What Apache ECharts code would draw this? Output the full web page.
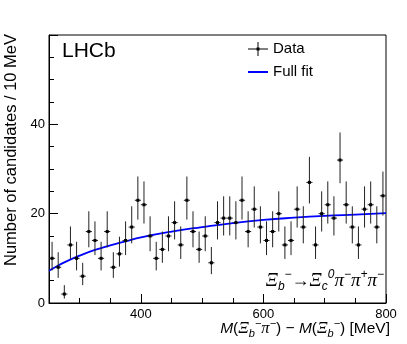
<!DOCTYPE html>
<html lang="en">
	<head>
		<meta charset="UTF-8">
		<title>Xi_b mass difference</title>
		<script src="https://cdn.jsdelivr.net/npm/echarts@6/dist/echarts.min.js" type="text/javascript" charset="utf-8"></script>
		<style>
			html, body { margin: 0; padding: 0; background: #fff; }
			#main { width: 407px; height: 344px; }
		</style>
	</head>
	<body>
		<div id="main"></div>
		<script>
			// bin centres (10 MeV bins) and counts
			var binCentres = [255, 265, 275, 285, 295, 305, 315, 325, 335, 345,
				355, 365, 375, 385, 395, 405, 415, 425, 435, 445,
				455, 465, 475, 485, 495, 505, 515, 525, 535, 545,
				555, 565, 575, 585, 595, 605, 615, 625, 635, 645,
				655, 665, 675, 685, 695, 705, 715, 725, 735, 745,
				755, 765, 775, 785, 795];
			var counts = [10, 8, 2, 13, 10, 6, 16, 14, 10, 16,
				8, 11, 14, 17, 23, 22, 15, 10, 12, 15,
				18, 13, 23, 16, 12, 15, 9, 18, 19, 19,
				18, 23, 16, 21, 17, 14, 16, 20, 13, 14,
				21, 17, 27, 13, 20, 22, 19, 32, 22, 17,
				13, 21, 22, 17, 24];
			// full fit curve
			var fitX = [250, 260, 275, 300, 325, 350, 375, 400, 450, 500, 550, 600, 650, 700, 750, 800];
			var fitY = [7.2, 8.0, 9.1, 10.6, 11.9, 12.9, 13.8, 14.7, 16.0, 17.0, 17.9, 18.6, 19.1, 19.5, 19.8, 20.1];
			var yTicks = [0, 20, 40];

			var BIN = 10;
			var data = binCentres.map(function (x, i) {
				var n = counts[i];
				var s = Math.sqrt(n + 0.25);
				return [x, n, s - 0.5, s + 0.5];//x, y, err low, err high
			});
			var fit = fitX.map(function (x, i) { return [x, fitY[i]]; });

			function renderPoint(params, api) {
				var x = api.value(0), y = api.value(1);
				var c = api.coord([x, y]);
				var l = api.coord([x - BIN / 2, y]);
				var r = api.coord([x + BIN / 2, y]);
				var lo = api.coord([x, Math.max(0, y - api.value(2))]);
				var hi = api.coord([x, y + api.value(3)]);
				var st = { stroke: '#222', lineWidth: 1 };
				return {
					type: 'group',
					children: [
						{ type: 'line', shape: { x1: c[0], y1: lo[1], x2: c[0], y2: hi[1] }, style: st },
						{ type: 'line', shape: { x1: l[0], y1: c[1], x2: r[0], y2: c[1] }, style: st },
						{ type: 'rect', shape: { x: c[0] - 1.5, y: c[1] - 1.5, width: 3, height: 3 }, style: { fill: '#000' } }
					]
				};
			}

			var serif = '"Liberation Serif", "DejaVu Serif", serif';
			var sans = '"Liberation Sans", Arial, sans-serif';
			function richStyles(size) {
				var small = Math.round(size * 0.68);
				return {
					i: { fontStyle: 'italic', fontSize: size, fontFamily: sans, lineHeight: size + 6 },
					g: { fontStyle: 'italic', fontSize: size + 1, fontFamily: serif, lineHeight: size + 6 },
					n: { fontSize: size, fontFamily: sans, lineHeight: size + 6 },
					sub: { fontStyle: 'italic', fontSize: small, fontFamily: sans, verticalAlign: 'bottom', lineHeight: small },
					sup: { fontStyle: 'italic', fontSize: small, fontFamily: sans, verticalAlign: 'top', lineHeight: small }
				};
			}

			var chart = echarts.init(document.getElementById('main'), null, { renderer: 'canvas' });
			var option = {
				backgroundColor: '#fff',
				animation: false,
				textStyle: { fontFamily: sans },
				grid: {
					left: 49, right: 21, top: 35, bottom: 41,
					show: true, borderColor: '#000', borderWidth: 1, containLabel: false
				},
				xAxis: [{
					type: 'value', min: 250, max: 800, interval: 50,
					axisLine: { lineStyle: { color: '#000' } },
					axisTick: { inside: true, length: 5, lineStyle: { color: '#000' } },
					axisLabel: {
						color: '#000', fontSize: 13, margin: 5,
						formatter: function (v) { return v % 200 === 0 ? String(v) : ''; }
					},
					splitLine: { show: false }
				}, {
					// long ticks at 400/600/800
					type: 'value', min: 250, max: 800, splitNumber: 3, position: 'bottom', offset: 0,
					axisLine: { show: false },
					axisTick: { inside: true, length: 9, lineStyle: { color: '#000' } },
					axisLabel: { show: false },
					splitLine: { show: false }
				}],
				yAxis: {
					type: 'value', min: 0, max: 60, interval: 20,
					axisLine: { show: true, lineStyle: { color: '#000' } },
					axisTick: { inside: true, length: 9, lineStyle: { color: '#000' } },
					minorTick: { show: true, splitNumber: 4, length: 5, lineStyle: { color: '#000' } },
					axisLabel: {
						color: '#000', fontSize: 13, margin: 4, showMaxLabel: false,
						formatter: function (v) { return yTicks.indexOf(v) >= 0 ? String(v) : ''; }
					},
					splitLine: { show: false }
				},
				series: [{
					type: 'line',
					data: fit,
					smooth: true,
					showSymbol: false,
					lineStyle: { color: '#0000ff', width: 1.8 },
					z: 3
				}, {
					type: 'custom',
					renderItem: renderPoint,
					encode: { x: 0, y: 1 },
					data: data,
					z: 4
				}],
				graphic: [
					{ type: 'text', left: 62, top: 41, style: { text: 'LHCb', fontSize: 21, fontFamily: sans, fill: '#000' } },
					// legend
					{ type: 'line', shape: { x1: 248, y1: 49, x2: 268, y2: 49 }, style: { stroke: '#000', lineWidth: 1 } },
					{ type: 'line', shape: { x1: 258, y1: 42, x2: 258, y2: 56 }, style: { stroke: '#000', lineWidth: 1 } },
					{ type: 'rect', shape: { x: 256.5, y: 47.5, width: 3, height: 3 }, style: { fill: '#000' } },
					{ type: 'text', x: 273, y: 49, style: { text: 'Data', fontSize: 15, fontFamily: sans, fill: '#000', verticalAlign: 'middle' } },
					{ type: 'line', shape: { x1: 248, y1: 72, x2: 268, y2: 72 }, style: { stroke: '#0000ff', lineWidth: 2 } },
					{ type: 'text', x: 273, y: 72, style: { text: 'Full fit', fontSize: 15, fontFamily: sans, fill: '#000', verticalAlign: 'middle' } },
					// decay label
					{
						type: 'text', x: 384, y: 281,
						style: {
							text: '{g|Ξ}{sub|b}{sup|−}{n|→}{g|Ξ}{sub|c}{sup|0}{g|π}{sup|−}{g|π}{sup|+}{g|π}{sup|−}',
							rich: richStyles(18), fill: '#000', align: 'right', verticalAlign: 'middle'
						}
					},
					// x axis title
					{
						type: 'text', x: 390, y: 329,
						style: {
							text: '{i|M}{n|(}{g|Ξ}{sub|b}{sup|−}{g|π}{sup|−}{n|) − }{i|M}{n|(}{g|Ξ}{sub|b}{sup|−}{n|) [MeV]}',
							rich: richStyles(15.5), fill: '#000', align: 'right', verticalAlign: 'middle'
						}
					},
					// y axis title
					{
						type: 'text', x: 11, y: 34, rotation: Math.PI / 2,
						style: {
							text: 'Number of candidates / 10 MeV', fontSize: 16.5, fontFamily: sans, fill: '#000',
							align: 'right', verticalAlign: 'middle'
						}
					}
				]
			};
			chart.setOption(option);
		</script>
	</body>
</html>
